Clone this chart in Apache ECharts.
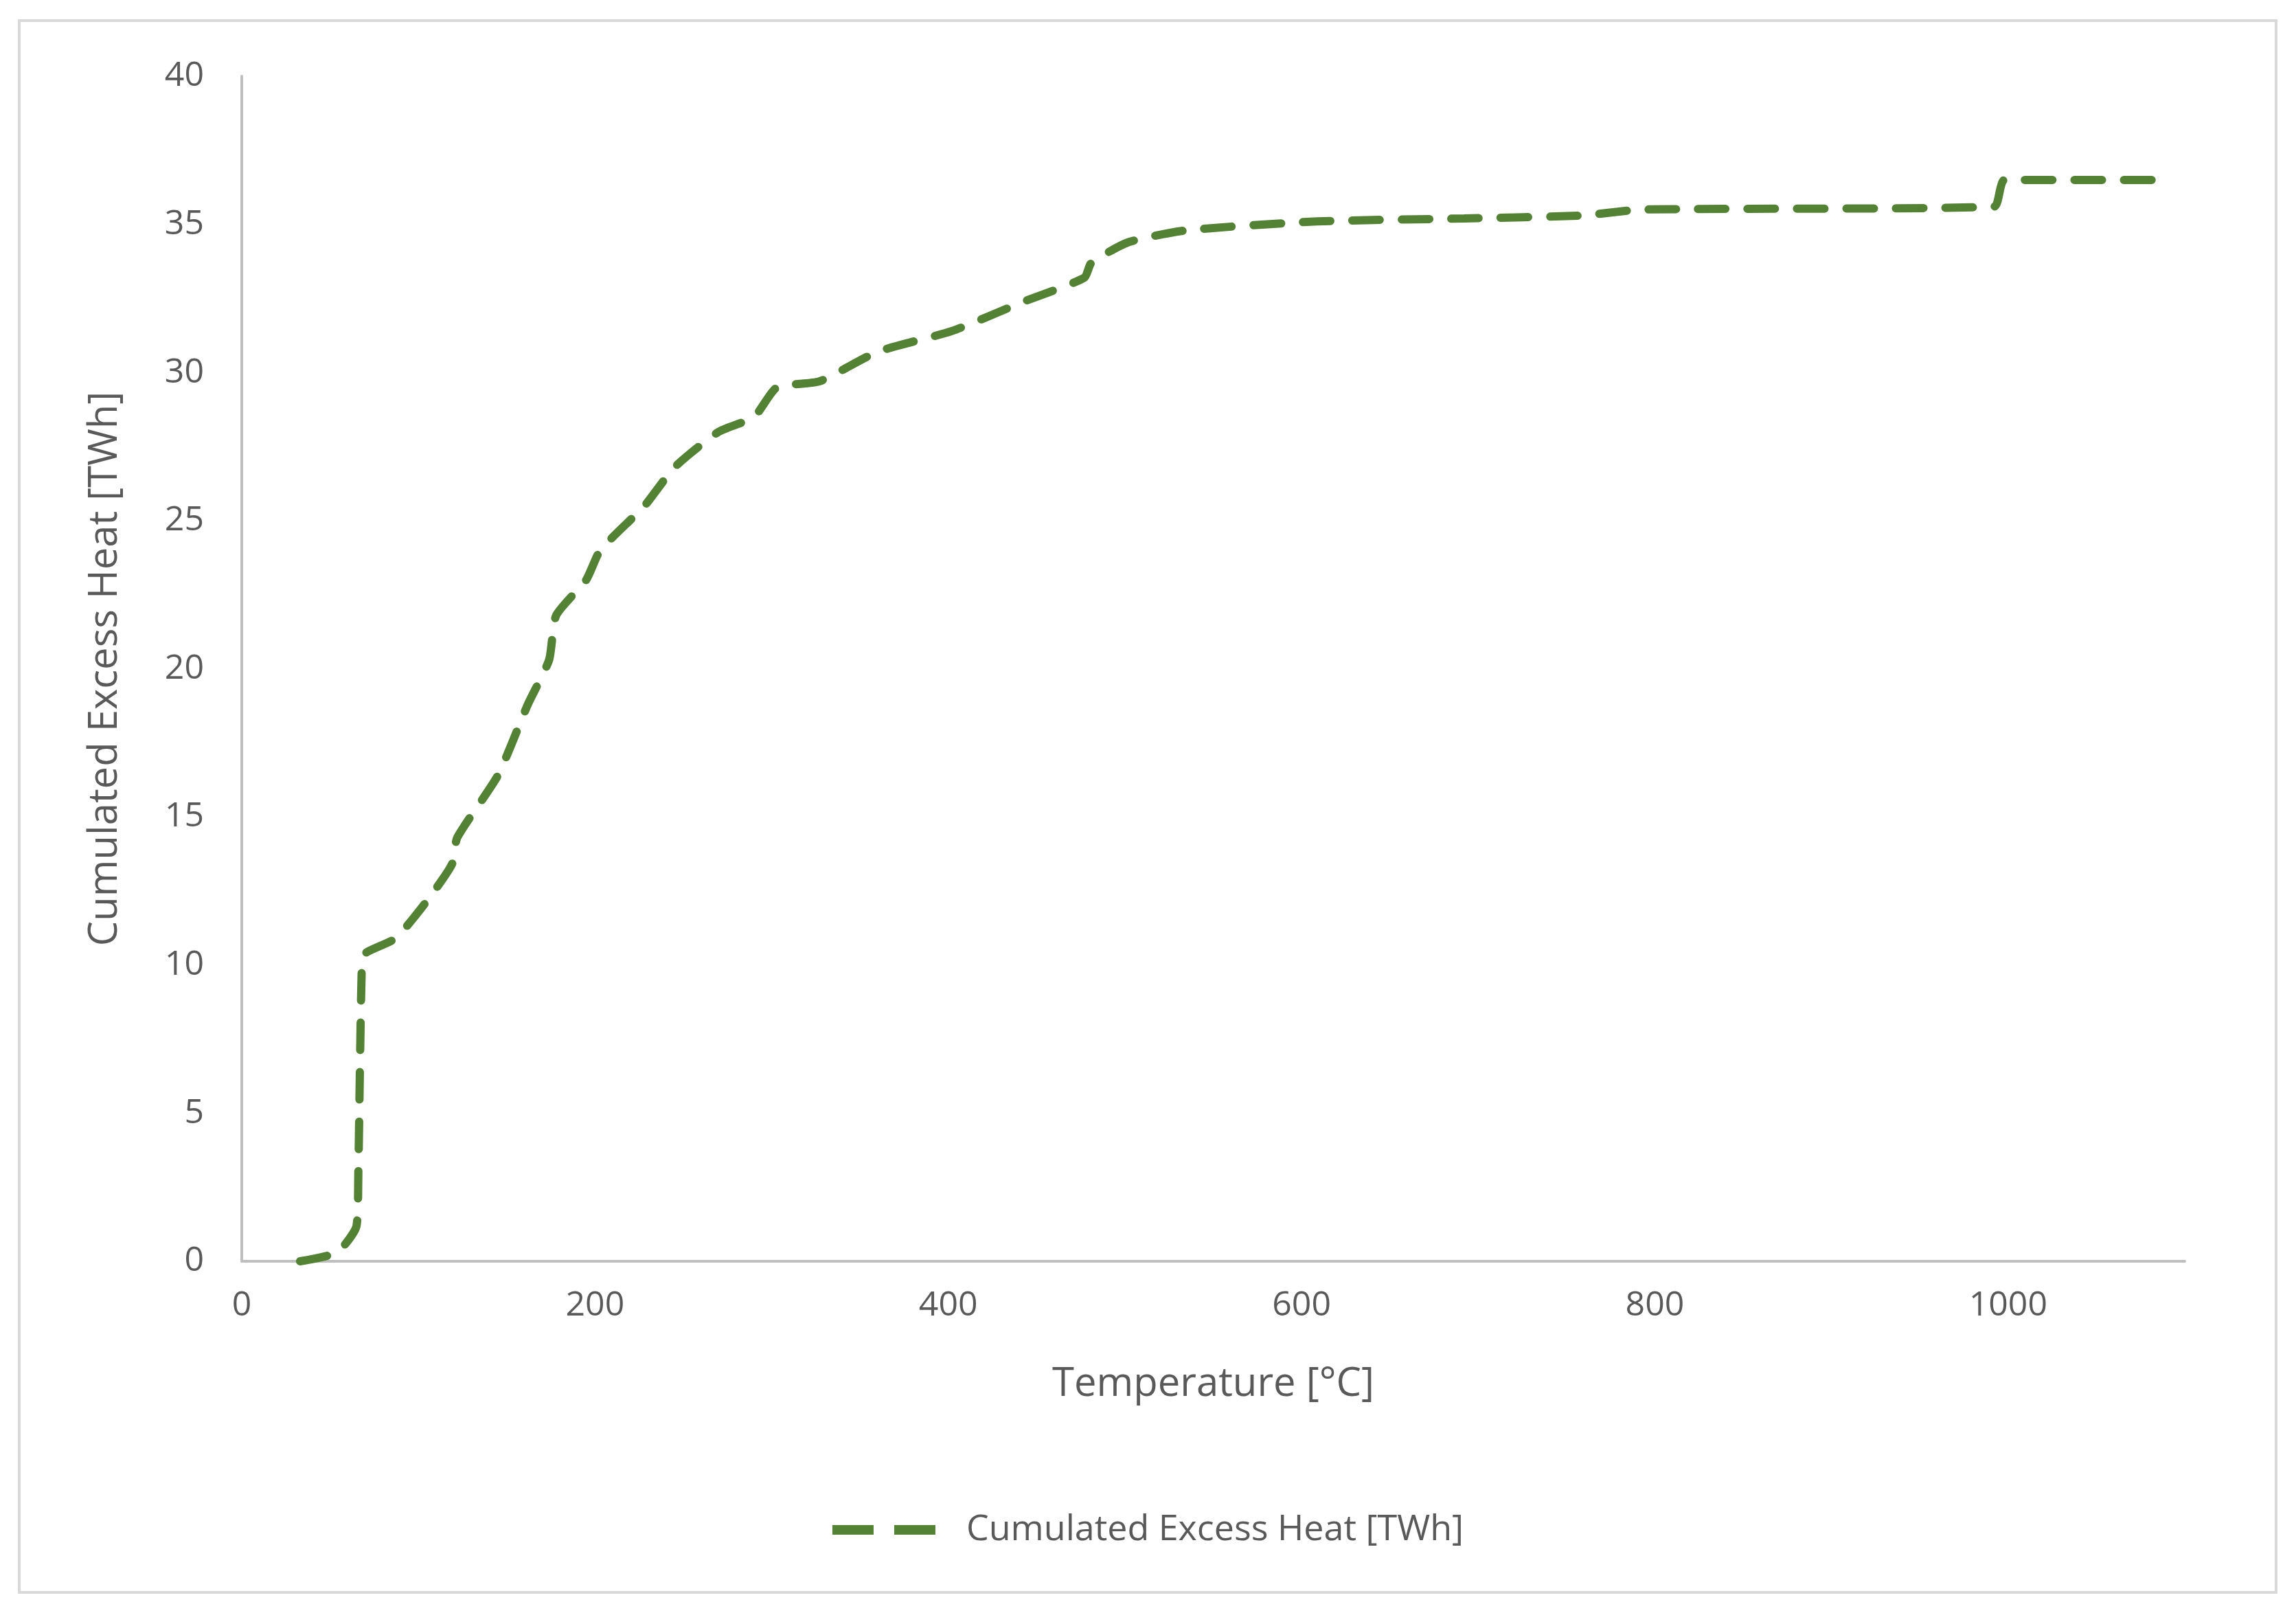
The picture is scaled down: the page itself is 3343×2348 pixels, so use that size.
<!DOCTYPE html>
<html><head><meta charset="utf-8">
<script src="https://cdn.jsdelivr.net/npm/echarts@6/dist/echarts.min.js"></script>
<style>html,body{margin:0;padding:0;background:#fff}#c{width:3343px;height:2348px}
#b{position:absolute;left:26px;top:28px;width:3290px;height:2292px;border:4px solid #d9d9d9;box-sizing:border-box;pointer-events:none}</style>
</head><body><div id="c"></div><div id="b"></div>
<script>
const temps = [33,54,65,66,68,70,87,104,119,122,145,162,174,178,195,203,228,245,270,290,303,327,360,402,443,477,481,502,535,609,692,759,792,992,998,1090];
const heat = [0,0.3,1.2,3,10,10.4,10.9,12.1,13.4,14.3,16.4,18.8,20.3,21.8,23.0,24.0,25.5,26.8,28.0,28.5,29.5,29.7,30.7,31.4,32.4,33.2,33.7,34.4,34.8,35.1,35.2,35.3,35.5,35.6,36.5,36.5];
const seriesName = 'Cumulated Excess Heat [TWh]';
const chart = echarts.init(document.getElementById('c'));
const txt = '#595959', ff = 'Open Sans, Calibri, sans-serif';
chart.setOption({
  animation:false,
  grid:{left:352,right:162,top:111,bottom:512},
  legend:{bottom:90,left:'center',itemWidth:150,itemHeight:14,itemGap:20,
    icon:'path://M0,0h60v14h-60z M90,0h60v14h-60z',
    itemStyle:{color:'#548235'},
    textStyle:{color:txt,fontSize:52,fontFamily:ff,padding:[0,0,0,40]},data:[seriesName]},
  xAxis:{type:'value',min:0,max:1100,interval:200,
    name:'Temperature [°C]',nameLocation:'middle',nameGap:150,
    nameTextStyle:{color:txt,fontSize:58,fontFamily:ff},
    axisLine:{lineStyle:{color:'#bfbfbf',width:4}},axisTick:{show:false},
    axisLabel:{color:txt,fontSize:50,fontFamily:ff,margin:40,
      formatter:v=>v===1100?'':v},
    splitLine:{show:false}},
  yAxis:{type:'value',min:0,max:40,interval:5,
    name:'Cumulated Excess Heat [TWh]',nameLocation:'middle',nameGap:170,
    nameTextStyle:{color:txt,fontSize:58,fontFamily:ff},
    axisLine:{show:true,lineStyle:{color:'#bfbfbf',width:4}},axisTick:{show:false},
    axisLabel:{color:txt,fontSize:50,fontFamily:ff,margin:55},
    splitLine:{show:false}},
  series:[{name:seriesName,type:'line',showSymbol:false,smooth:0.2,
    data:temps.map((t,i)=>[t,heat[i]]),
    lineStyle:{color:'#548235',width:12,type:[40,32],cap:'round'},
    itemStyle:{color:'#548235'}}]
});
</script></body></html>
